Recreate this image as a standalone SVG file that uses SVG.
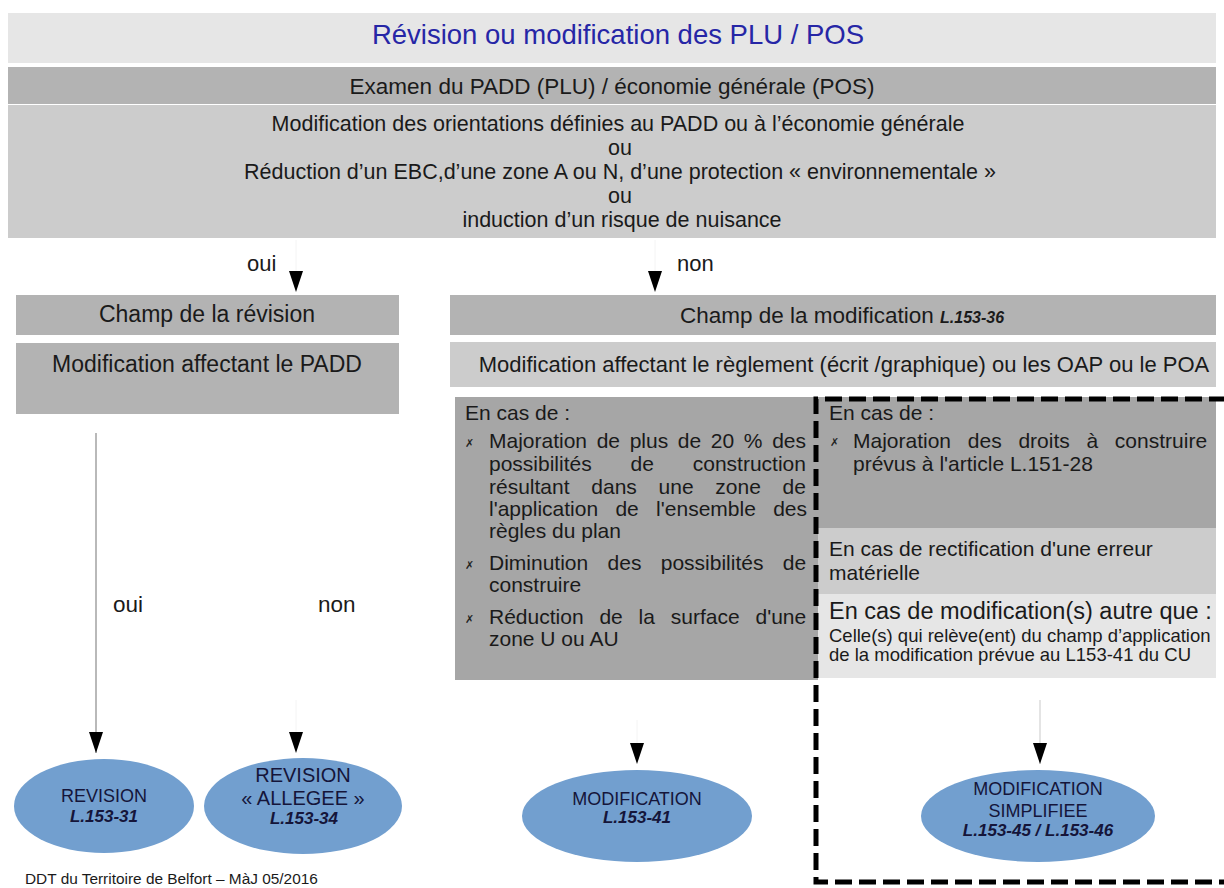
<svg xmlns="http://www.w3.org/2000/svg" width="1224" height="888" viewBox="0 0 1224 888">
<style>
text{font-family:"Liberation Sans",Arial,sans-serif;fill:#1a1a1a}
.c{text-anchor:middle}
.bi{font-weight:bold;font-style:italic}
.b1{font-size:21.5px}
.h{font-size:23px}
.l{font-size:21px}
.ell{fill:#729fcf}
.et{fill:#15153a}
.bul{font-family:"DejaVu Sans",sans-serif;font-size:11px;font-style:italic;fill:#222}
.conn{stroke:#8a8a8a;stroke-width:1.2;fill:none}
.faint{stroke:#f4f4f4;stroke-width:1;fill:none}
.dash{fill:none;stroke:#000;stroke-width:5;stroke-dasharray:17 7}
</style>
<defs>
<marker id="tri" markerUnits="userSpaceOnUse" markerWidth="21" markerHeight="14" refX="21" refY="7" orient="auto">
<path d="M0,0 L21,7 L0,14 Z" fill="#000"/>
</marker>
</defs>
<rect width="1224" height="888" fill="#fff"/>

<g id="title">
<rect x="8" y="13" width="1208" height="50" fill="#e6e6e6"/>
<text x="618" y="44" class="c" style="font-size:27.5px;fill:#2626a6">Révision ou modification des PLU / POS</text>
</g>
<g id="examen">
<rect x="8" y="67" width="1208" height="37" fill="#b3b3b3"/>
<text x="612" y="94" class="c" style="font-size:22.5px">Examen du PADD (PLU)  / économie générale (POS)</text>
</g>
<g id="criteres">
<rect x="8" y="105" width="1208" height="133" fill="#cccccc"/>
<text class="c b1" x="618" y="131">Modification des orientations définies au PADD ou à l’économie générale</text>
<text class="c b1" x="620" y="155">ou</text>
<text class="c b1" x="620" y="179">Réduction d’un EBC,d’une zone A ou N, d’une protection « environnementale »</text>
<text class="c b1" x="620" y="203">ou</text>
<text class="c b1" x="622" y="227">induction d’un risque de nuisance</text>
</g>

<g id="champ-revision">
<rect x="16" y="295" width="383" height="40" fill="#b3b3b3"/>
<text class="c h" x="207" y="322">Champ de la révision</text>
</g>
<g id="padd">
<rect x="16" y="343" width="383" height="71" fill="#b3b3b3"/>
<text class="c h" x="207" y="372">Modification affectant le PADD</text>
</g>
<g id="champ-modification">
<rect x="450" y="295" width="766" height="40" fill="#b3b3b3"/>
<text class="c" x="842" y="323" style="font-size:22.5px">Champ de la modification <tspan class="bi" style="font-size:16px">L.153-36</tspan></text>
</g>
<g id="reglement">
<rect x="450" y="342" width="766" height="45" fill="#cccccc"/>
<text class="c" x="844" y="372" style="font-size:22px">Modification affectant le règlement (écrit /graphique) ou les OAP ou le POA</text>
</g>

<g id="cas-modification">
<rect x="455" y="397" width="363" height="283" fill="#a6a6a6"/>
<text class="l" x="465" y="420">En cas de :</text>
<text class="bul" x="465" y="447">✗</text>
<text class="l" x="489" y="448" style="word-spacing:3.8px">Majoration de plus de 20 % des</text>
<text class="l" x="489" y="471" style="word-spacing:33px">possibilités de construction</text>
<text class="l" x="489" y="494" style="word-spacing:15.9px">résultant dans une zone de</text>
<text class="l" x="489" y="516" style="word-spacing:11.5px">l'application de l'ensemble des</text>
<text class="l" x="489" y="538">règles du plan</text>
<text class="bul" x="465" y="569">✗</text>
<text class="l" x="489" y="570" style="word-spacing:13.5px">Diminution des possibilités de</text>
<text class="l" x="489" y="592">construire</text>
<text class="bul" x="465" y="623">✗</text>
<text class="l" x="489" y="624" style="word-spacing:10px">Réduction de la surface d'une</text>
<text class="l" x="489" y="646">zone U ou AU</text>
</g>

<g id="cas-simplifiee">
<rect x="818" y="397" width="398" height="131" fill="#a6a6a6"/>
<text class="l" x="829" y="420">En cas de :</text>
<text class="bul" x="830" y="446">✗</text>
<text class="l" x="853" y="448" style="word-spacing:10.9px">Majoration des droits à construire</text>
<text class="l" x="853" y="471">prévus à l'article L.151-28</text>
</g>
<g id="cas-rectification">
<rect x="818" y="528" width="398" height="66" fill="#cccccc"/>
<text class="l" x="829" y="556">En cas de rectification d'une erreur</text>
<text class="l" x="829" y="580">matérielle</text>
</g>
<g id="cas-autre">
<rect x="818" y="594" width="398" height="84" fill="#e6e6e6"/>
<text x="829" y="619" style="font-size:23.5px">En cas de modification(s) autre que :</text>
<text x="829" y="642" style="font-size:18.5px">Celle(s) qui relève(ent) du champ d’application</text>
<text x="829" y="661" style="font-size:18.5px">de la  modification prévue au L153-41 du CU</text>
</g>

<g id="dashed-frame">
<path class="dash" d="M1226,399 H816 V882 H1226"/>
</g>

<g id="connectors">
<line class="faint" x1="296" y1="240" x2="296" y2="292" marker-end="url(#tri)"/>
<text x="247" y="271" style="font-size:22px">oui</text>
<line class="faint" x1="655" y1="240" x2="655" y2="292" marker-end="url(#tri)"/>
<text x="677" y="271" style="font-size:22px">non</text>
<line class="conn" x1="96" y1="433" x2="96" y2="753" marker-end="url(#tri)"/>
<text x="113" y="612" style="font-size:22.5px">oui</text>
<line class="faint" x1="296" y1="700" x2="296" y2="753" marker-end="url(#tri)"/>
<text x="318" y="612" style="font-size:22.5px">non</text>
<line class="faint" x1="637" y1="720" x2="637" y2="764" marker-end="url(#tri)"/>
<line class="conn" x1="1040" y1="700" x2="1040" y2="764" style="stroke:#d2d2d2"/>
<line x1="1040" y1="744" x2="1040" y2="764" stroke="none" marker-end="url(#tri)"/>
</g>

<g id="revision">
<ellipse class="ell" cx="104" cy="806" rx="90" ry="47"/>
<text class="c et" x="104" y="802" style="font-size:18px">REVISION</text>
<text class="c et bi" x="104" y="822" style="font-size:17px">L.153-31</text>
</g>
<g id="revision-allegee">
<ellipse class="ell" cx="303" cy="806" rx="99" ry="48"/>
<text class="c et" x="303" y="782" style="font-size:20px">REVISION</text>
<text class="c et" x="303" y="805" style="font-size:20px">« ALLEGEE »</text>
<text class="c et bi" x="304" y="824" style="font-size:17px">L.153-34</text>
</g>
<g id="modification">
<ellipse class="ell" cx="637" cy="816" rx="115" ry="46"/>
<text class="c et" x="637" y="805" style="font-size:18px">MODIFICATION</text>
<text class="c et bi" x="637" y="823" style="font-size:17px">L.153-41</text>
</g>
<g id="modification-simplifiee">
<ellipse class="ell" cx="1038" cy="816" rx="117" ry="46"/>
<text class="c et" x="1038" y="795" style="font-size:18px">MODIFICATION</text>
<text class="c et" x="1038" y="817" style="font-size:18px">SIMPLIFIEE</text>
<text class="c et bi" x="1038" y="836" style="font-size:17px">L.153-45 / L.153-46</text>
</g>

<g id="footer">
<text x="25" y="884" style="font-size:15.4px">DDT du Territoire de Belfort – MàJ 05/2016</text>
</g>
</svg>
